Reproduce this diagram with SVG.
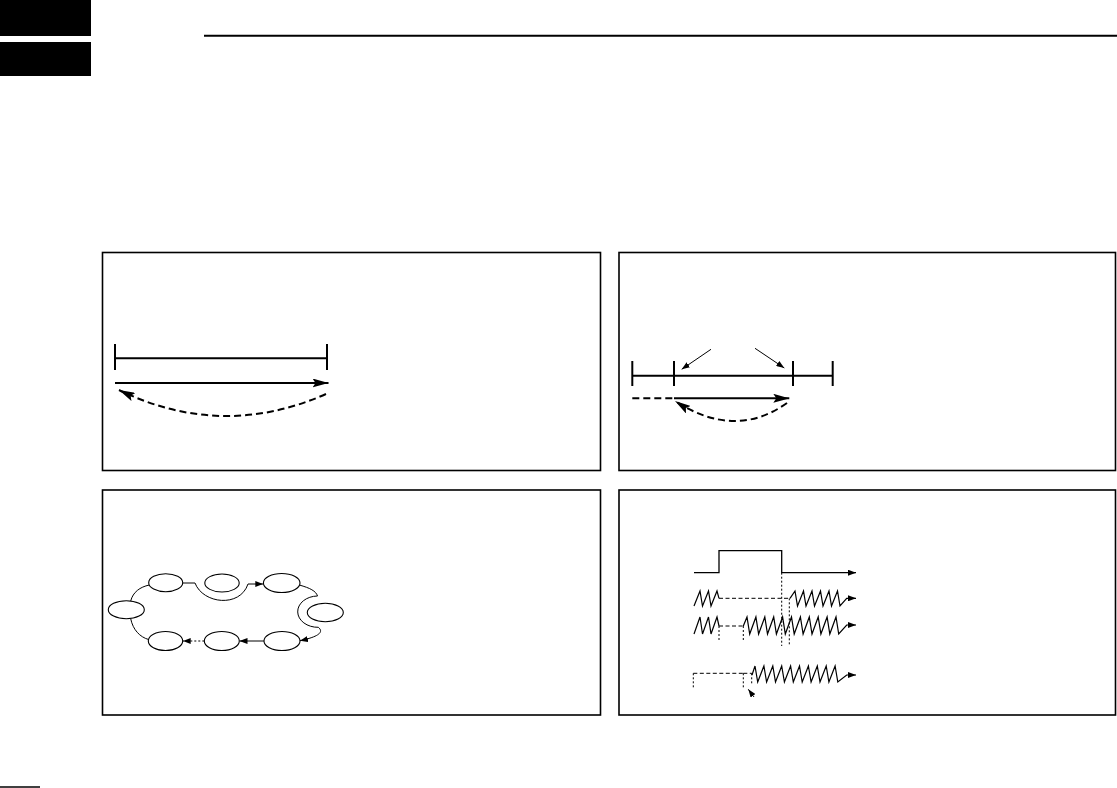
<svg xmlns="http://www.w3.org/2000/svg" width="1117" height="788" viewBox="0 0 1117 788">
<style>
.panel{fill:none;stroke:#000;stroke-width:1.6}
.thick{fill:none;stroke:#000;stroke-width:2}
.thin{fill:none;stroke:#000;stroke-width:1}
.zig{fill:none;stroke:#000;stroke-width:1.2;stroke-linejoin:miter}
.med{fill:none;stroke:#000;stroke-width:1.3}
.dash{stroke-dasharray:7 4}
.dash2{stroke-dasharray:4 2.5}
.dot{stroke-dasharray:2 2}
.ell{fill:#fff;stroke:#000;stroke-width:1.1}
</style>
<defs>
<marker id="big" viewBox="0 0 16 9" refX="16" refY="4.5" markerWidth="16" markerHeight="9" markerUnits="userSpaceOnUse" orient="auto">
<path d="M0,0 L16,4.5 L0,9 L3,4.5 z" fill="#000" stroke="none"/>
</marker>
<marker id="small" viewBox="0 0 8 6" refX="8" refY="3" markerWidth="8" markerHeight="6" markerUnits="userSpaceOnUse" orient="auto">
<path d="M0,0 L8,3 L0,6 z" fill="#000" stroke="none"/>
</marker>
</defs>
<rect width="1117" height="788" fill="#fff"/>
<g id="header">
<rect x="0" y="0" width="91" height="36" fill="#000"/>
<rect x="0" y="42" width="91" height="34" fill="#000"/>
<line x1="204" y1="35.7" x2="1117" y2="35.7" stroke="#000" stroke-width="2"/>
<line x1="0" y1="787" x2="40" y2="787" stroke="#000" stroke-width="1.5"/>
</g>
<g id="panels">
<rect class="panel" x="102.5" y="252.5" width="498" height="218"/>
<rect class="panel" x="619" y="252.5" width="496.5" height="218"/>
<rect class="panel" x="102.5" y="490" width="498" height="225"/>
<rect class="panel" x="619" y="490" width="496.5" height="225"/>
</g>
<g id="panel1">
<line class="thick" x1="115" y1="358.3" x2="327" y2="358.3"/>
<line class="thick" x1="115" y1="344" x2="115" y2="370"/>
<line class="thick" x1="327" y1="344" x2="327" y2="370"/>
<line class="thick" x1="115" y1="383" x2="328.5" y2="383" marker-end="url(#big)"/>
<path class="thick dash" d="M326,394 Q222,440 119,390" marker-end="url(#big)"/>
</g>
<g id="panel2">
<line class="thick" x1="632.3" y1="375.7" x2="832.7" y2="375.7"/>
<line class="thick" x1="632.3" y1="361" x2="632.3" y2="386"/>
<line class="thick" x1="674" y1="361" x2="674" y2="386"/>
<line class="thick" x1="793" y1="361" x2="793" y2="386"/>
<line class="thick" x1="832.7" y1="361" x2="832.7" y2="386"/>
<line class="thin" x1="711" y1="349.3" x2="681.7" y2="369.3" marker-end="url(#small)"/>
<line class="thin" x1="755" y1="348.3" x2="784.3" y2="368" marker-end="url(#small)"/>
<line class="thick dash" x1="632.3" y1="398.3" x2="674" y2="398.3"/>
<line class="thick" x1="674" y1="398.3" x2="789.3" y2="398.3" marker-end="url(#big)"/>
<path class="thick dash" d="M787,403 Q735,440 675,401" marker-end="url(#big)"/>
</g>
<g id="panel3">
<g id="connectors3">
<path class="thin" d="M130.7,601 C133,592 140,587 149.3,585"/>
<path class="thin" d="M182.7,583 L195,583 C203,604 240,608 248,584 L263.3,584" marker-end="url(#small)"/>
<path class="thin" d="M299.3,585 C310,588 316,591 317.5,596 A20 15.5 0 0 0 318.3,627.3 C323,631 322,636 300,640.7" marker-end="url(#small)"/>
<line class="thin" x1="264" y1="641" x2="239.5" y2="641" marker-end="url(#small)"/>
<line class="thin dot" x1="204.3" y1="641" x2="182.7" y2="641" marker-end="url(#small)"/>
<path class="thin" d="M130.7,618.7 C133,630 140,637 148.5,639.5"/>
</g>
<ellipse id="e1" class="ell" cx="165.7" cy="582.7" rx="17" ry="9"/>
<ellipse id="e2" class="ell" cx="222" cy="583" rx="17.2" ry="9"/>
<ellipse id="e3" class="ell" cx="281.7" cy="583" rx="18.3" ry="9.5"/>
<ellipse id="e4" class="ell" cx="325.3" cy="612.5" rx="18" ry="9.2"/>
<ellipse id="e5" class="ell" cx="126.3" cy="609.7" rx="18" ry="9"/>
<ellipse id="e6" class="ell" cx="165.5" cy="641" rx="17.2" ry="9.5"/>
<ellipse id="e7" class="ell" cx="221.8" cy="641" rx="17.5" ry="9.5"/>
<ellipse id="e8" class="ell" cx="282" cy="641" rx="18" ry="9.5"/>
</g>
<g id="panel4">
<path class="med" d="M694,572.7 L719,572.7 L719,550.7 L781.7,550.7 L781.7,572.7 L856,572.7" marker-end="url(#small)"/>
<line class="thin dot" x1="781.7" y1="572.7" x2="781.7" y2="646"/>
<line class="thin dot" x1="789.3" y1="598.3" x2="789.3" y2="646"/>
<path class="zig" d="M694,606 L700,591 L702.5,606 L708.5,591 L711,606 L717,591 L719,598.3"/>
<line class="thin dash2" x1="719" y1="598.3" x2="790" y2="598.3"/>
<path class="zig" d="M790,598.3 L795,591 L797.5,606 L803.5,591 L806,606 L812,591 L814.5,606 L820.5,591 L823,606 L829,591 L831.5,606 L837.5,591 L840,606 L846.7,598.3 L856,598.3" marker-end="url(#small)"/>
<path class="zig" d="M694,634 L700,617 L702.5,634 L708.5,617 L711,634 L717,617 L719,626"/>
<line class="thin dash2" x1="719" y1="626" x2="743.3" y2="626"/>
<line class="thin dot" x1="719" y1="626" x2="719" y2="642"/>
<line class="thin dot" x1="743.3" y1="626" x2="743.3" y2="642"/>
<path class="zig" d="M743.3,626 L747,617 L749.7,634 L755.9,617 L758.6,634 L764.8,617 L767.5,634 L773.7,617 L776.4,634 L782.6,617 L785.3,634 L791.5,617 L794.2,634 L800.4,617 L803.1,634 L809.3,617 L812,634 L818.2,617 L820.9,634 L827.1,617 L829.8,634 L836,617 L838.7,634 L846.7,625 L856,625" marker-end="url(#small)"/>
<line class="thin dash2" x1="693.3" y1="673.3" x2="743.3" y2="673.3"/>
<line class="thin dot" x1="693.3" y1="673.3" x2="693.3" y2="689.3"/>
<line class="thin dot" x1="743.3" y1="673.3" x2="743.3" y2="689.3"/>
<line class="thin dash2" x1="743.3" y1="673.3" x2="751.7" y2="673.3"/>
<line class="thin dot" x1="751.7" y1="673.3" x2="751.7" y2="684"/>
<path class="zig" d="M752,675 L755,666 L757.7,682 L763.9,666 L766.6,682 L772.8,666 L775.5,682 L781.7,666 L784.4,682 L790.6,666 L793.3,682 L799.5,666 L802.2,682 L808.4,666 L811.1,682 L817.3,666 L820,682 L826.2,666 L828.9,682 L835.1,666 L837.8,682 L846.7,675 L856,675" marker-end="url(#small)"/>
<line class="thin" x1="754" y1="697" x2="748.3" y2="689.3" marker-end="url(#small)"/>
</g>
</svg>
